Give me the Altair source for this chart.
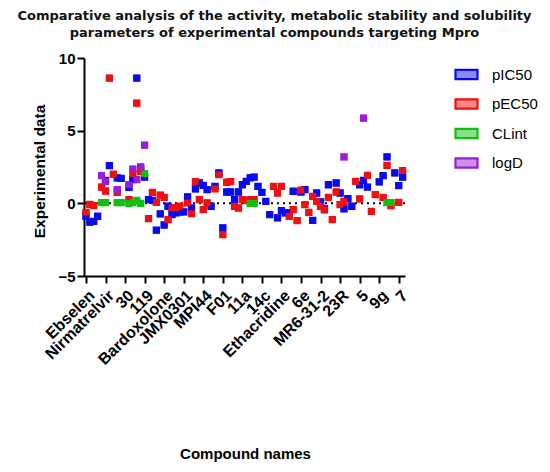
import altair as alt
import pandas as pd

compound_labels = ["Ebselen", "Nirmatrelvir", "30", "119", "Bardoxolone", "JMX0301",
                   "MPI44", "F01", "11a", "14c", "Ethacridine", "6e", "MR6-31-2",
                   "23R", "5", "9g", "7"]
label_positions = [1, 6, 11, 16, 21, 26, 31, 36, 41, 46, 51, 56, 61, 66, 71, 76, 81]

series_names = ["pIC50", "pEC50", "CLint", "logD"]
series_colors = ["#0a0af0", "#f01010", "#10c010", "#9a1ed8"]
legend_fill_colors = ["#8a8af8", "#f88a8a", "#8ae08a", "#cd8fec"]

pic50 = [(1, -0.89), (2, -1.3), (3, -1.24), (4, -0.89), (6, 1.58), (7, 2.59), (9, 1.75),
         (10, 1.72), (12, 1.1), (13, 1.63), (14, 8.62), (15, 2.43), (16, 1.81), (17, 0.25),
         (18, 0.2), (19, -1.85), (20, -0.73), (21, -1.49), (22, -0.2), (23, -0.78),
         (24, -0.66), (25, -0.59), (26, -0.59), (27, 0.44), (28, -0.32), (29, 0.99),
         (30, 1.4), (31, 1.24), (32, 0.94), (33, -0.2), (34, 1.17), (35, 2.09), (36, -1.69),
         (37, 0.78), (38, 0.78), (39, 0.25), (40, 0.78), (41, 1.28), (42, 1.51), (43, 1.75),
         (44, 1.81), (45, 1.17), (46, 0.76), (47, 0.14), (48, -0.78), (50, -1.0), (51, -0.5),
         (52, -0.66), (53, -0.66), (54, 0.83), (56, 0.78), (57, 0.94), (59, -1.17),
         (60, 0.71), (61, 0.1), (62, -0.38), (63, 1.28), (65, 1.4), (66, 0.71), (67, -0.38),
         (68, 0.32), (69, -0.2), (71, 1.28), (72, 1.58), (73, 1.12), (76, 1.47), (77, 1.9),
         (78, 3.19), (80, 2.09), (81, 1.22), (82, 1.81)]

pec50 = [(1, -0.62), (2, -0.07), (3, -0.16), (5, 1.12), (6, 0.85), (7, 8.62), (8, 2.0),
         (9, 0.76), (12, 0.25), (13, 2.04), (14, 6.9), (15, 2.2), (17, -1.05), (18, 0.76),
         (19, 0.07), (20, 0.57), (21, 0.41), (22, -1.12), (23, -0.32), (24, -0.32),
         (25, -0.2), (27, 0.03), (28, -0.71), (29, 1.5), (30, 0.25), (31, -0.43), (32, 0.03),
         (34, 1.0), (35, 1.97), (36, -2.15), (37, 1.45), (38, 1.5), (39, -0.2), (40, -0.32),
         (41, 0.25), (42, 0.19), (43, 0.25), (44, 0.25), (49, 1.17), (50, 0.71), (51, 1.17),
         (53, -0.89), (54, -0.43), (55, -1.19), (56, 0.9), (57, -0.09), (58, -0.62),
         (59, 0.48), (60, 0.14), (61, -0.2), (62, -0.45), (63, 0.41), (64, -1.12),
         (65, 0.78), (66, -0.09), (67, 0.14), (70, 1.51), (71, 0.3), (73, 1.93), (74, -0.55),
         (75, 0.6), (77, 0.41), (78, 2.61), (79, -0.16), (81, 0.07), (82, 2.25)]

clint = [(5, 0.05), (6, 0.05), (9, 0.05), (10, 0.05), (12, 0.0), (13, 0.05), (14, 0.2),
         (15, 0.0), (16, 2.04), (43, 0.0), (44, 0.0), (78, 0.05), (79, 0.05)]

logd = [(5, 1.9), (6, 1.5), (9, 0.94), (12, 1.28), (13, 2.36), (14, 1.63), (15, 2.5),
        (16, 4.0), (67, 3.19), (72, 5.87)]

rows = []
for name, pts in zip(series_names, [pic50, pec50, clint, logd]):
    for idx, val in pts:
        rows.append({"compound": idx, "value": val, "series": name})
df = pd.DataFrame(rows)

label_expr = "[" + ",".join("'" + s + "'" for s in compound_labels) + "][(datum.value - 1) / 5]"

FONT = "Liberation Sans"

x_enc = alt.X("compound:Q",
              scale=alt.Scale(domain=[0.5, 82.6], nice=False, zero=False),
              axis=alt.Axis(title="Compound names", values=label_positions,
                            labelExpr=label_expr, labelAngle=-45, labelAlign="right",
                            labelBaseline="top", labelPadding=4, labelFontSize=16,
                            labelFontWeight="bold", labelOverlap=False,
                            titleFontSize=15, titleFontWeight="bold",
                            titleX=161, titleY=177, titleAlign="center",
                            titleBaseline="middle", tickSize=7, grid=False))
y_enc = alt.Y("value:Q",
              scale=alt.Scale(domain=[-5, 10], nice=False),
              axis=alt.Axis(title="Experimental data", values=[-5, 0, 5, 10],
                            labelFontSize=15, labelFontWeight="bold", titleFontSize=15.5,
                            titleFontWeight="bold", titleX=-45, titleY=113,
                            titleAngle=270, titleAlign="center", titleBaseline="middle",
                            tickSize=7, labelPadding=2, grid=False))

zero_line = alt.Chart(pd.DataFrame({"y": [0]})).mark_rule(
    color="black", strokeWidth=2, strokeDash=[2, 4]
).encode(y="y:Q")

legend_kw = dict(title=None, orient="none", legendX=370, legendY=4,
                 symbolType="M-1,-0.42L1,-0.42L1,0.42L-1,0.42Z",
                 symbolSize=484, symbolStrokeWidth=2.2, labelFontSize=15,
                 labelFont=FONT, labelOffset=13, rowPadding=7.5)

# legend carrier: same points, slightly smaller, drawn beneath the real points
legend_layer = alt.Chart(df).mark_square(size=28, opacity=1, filled=True).encode(
    x=x_enc,
    y=y_enc,
    fill=alt.Fill("series:N",
                  scale=alt.Scale(domain=series_names, range=legend_fill_colors),
                  legend=alt.Legend(**legend_kw)),
    stroke=alt.Stroke("series:N",
                      scale=alt.Scale(domain=series_names, range=series_colors),
                      legend=alt.Legend(**legend_kw)),
)

points = alt.Chart(df).mark_square(size=44, opacity=1, filled=True).encode(
    x=x_enc,
    y=y_enc,
    color=alt.Color("series:N",
                    scale=alt.Scale(domain=series_names, range=series_colors),
                    legend=None),
)

chart = alt.layer(zero_line, legend_layer, points).properties(
    width=321, height=218,
    autosize=alt.AutoSizeParams(type="none"),
    padding={"left": 76, "top": 50, "right": 137, "bottom": 188},
    title=alt.TitleParams(
        text=["Comparative analysis of the activity, metabolic stability and solubility",
              "parameters of experimental compounds targeting Mpro"],
        fontSize=13, fontWeight="bold", font="DejaVu Sans", color="#111111",
        anchor="middle", dx=30, offset=11, lineHeight=17),
).configure_axis(
    domainColor="black", domainWidth=2, tickColor="black", tickWidth=2,
    labelColor="black", titleColor="black", labelFont=FONT, titleFont=FONT,
).configure_view(stroke=None)

chart.save("out.html", embed_options={"renderer": "svg", "actions": False})
